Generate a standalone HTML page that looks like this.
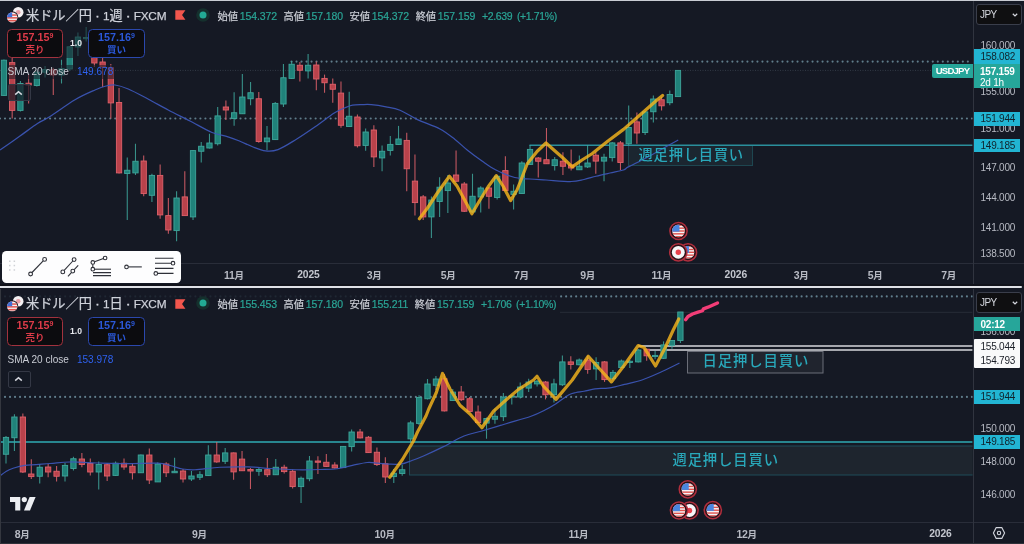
<!DOCTYPE html>
<html lang="ja"><head><meta charset="utf-8"><title>USDJPY</title>
<style>

html,body{margin:0;padding:0}
body{width:1024px;height:544px;overflow:hidden;background:#151924;position:relative;font-family:"Liberation Sans","Noto Sans CJK JP",sans-serif;color:#d1d4dc}
div{box-sizing:border-box}
.abs{position:absolute}
.axis{position:absolute;left:972.6px;width:51px;background:#151924;border-left:1px solid #30343f}
.taxis{position:absolute;left:0;width:1024px;height:23px;background:#151924;border-top:1px solid #292d39}
.al{position:absolute;left:973.7px;width:46.7px;text-align:center;font-size:10px;line-height:14px;color:#b7bac3;letter-spacing:-.22px;padding-left:1.6px}
.tl{position:absolute;width:60px;text-align:center;font-size:10.5px;letter-spacing:-.35px;line-height:16px;color:#b7bac3;font-weight:700}
.tl i{font-style:normal;font-size:9.5px}
.tl.b{font-weight:700;color:#c3c6ce;font-size:10.3px;letter-spacing:-.1px}
.box{position:absolute;left:973.7px;width:46.7px;text-align:center;font-size:10px;line-height:13px;letter-spacing:-.22px;padding-left:1.6px}
.cy{background:#22b5d3;color:#10222b}
.tealb{background:#26a69a;color:#fff}
.wh{background:#f9f9fa;color:#1b1e27}
.jpy{position:absolute;left:975.9px;width:46px;height:21px;letter-spacing:-.65px;border:1px solid #3a3e4b;border-radius:3px;background:#0f0f11;font-size:10px;line-height:19.6px;color:#d5d7de;padding-left:3.2px}
.jpy svg{position:absolute;right:3px;top:8px}
.lg{position:absolute;left:0;height:18px;white-space:nowrap}
.lg .fl{position:absolute;left:3.8px;top:-.6px}
.lg .ttl{position:absolute;left:26px;top:0;font-size:13.2px;line-height:18px;color:#cfd2da;letter-spacing:0;-webkit-text-stroke:.25px #cfd2da}
.lg .ttl em{font-style:normal;font-size:11.8px;letter-spacing:-.2px}
.lg .ttl b{font-weight:400;font-size:11.8px;margin:0 .3px;-webkit-text-stroke:.7px #cfd2da}
.lg .rf{position:absolute;left:175px;top:3.3px}
.lg .gc{position:absolute;left:195.3px;top:.1px}
.lg .oh{position:absolute;left:217.5px;top:0;font-size:10.5px;line-height:18px;color:#2aa596;letter-spacing:-.08px;word-spacing:0;-webkit-text-stroke:.2px}
.lg .oh i{font-style:normal;color:#cdd0d8;font-size:10.3px;margin-right:1.7px}
.lg .oh i.g{margin-left:3.7px}
.lg .oh .ch{margin-left:3.9px;letter-spacing:-.36px;word-spacing:2.2px}
.btn{position:absolute;height:29.1px;border-radius:4.5px;background:#0c0c0f;text-align:center;font-weight:700}
.btn .p{font-size:10.8px;line-height:11px;margin-top:2.5px}
.btn .p sup{font-size:7px;line-height:0;vertical-align:3px}
.btn .t{font-size:9.5px;line-height:11px;margin-top:.9px}
.sell{left:6.6px;width:56.8px;border:1px solid #a2323e;color:#dd3b49}
.buy{left:88px;width:57px;border:1px solid #2b48ad;color:#2b58d8}
.one{position:absolute;left:64px;width:24px;text-align:center;font-size:8.6px;font-weight:700;color:#e6e8ee;line-height:11px}
.sma{position:absolute;left:7.5px;font-size:10.05px;line-height:14px;color:#c9ccd4;white-space:nowrap;background:rgba(21,25,36,.55);padding-right:2px}
.sma b{font-weight:400;color:#2f62f0;margin-left:8px}
.col{position:absolute;left:7.6px;width:23.2px;height:17px;border:1px solid #343845;border-radius:2px;background:rgba(21,25,36,.72)}
.col svg{position:absolute;left:5.4px;top:4.6px}
.note{position:absolute;color:#29a8ba;white-space:nowrap;font-weight:500}

</style></head><body><div id="w" style="position:absolute;left:0;top:0;width:1024px;height:544px;will-change:transform">
<svg width="1024" height="544" viewBox="0 0 1024 544" style="position:absolute;left:0;top:0">
<defs><clipPath id="p1"><rect x="0" y="1" width="972.6" height="262"/></clipPath><clipPath id="p2"><rect x="0" y="289" width="972.6" height="232.5"/></clipPath></defs>
<g clip-path="url(#p1)">
<line x1="291.5" x2="972.6" y1="61.6" y2="61.6" stroke="#607d8b" stroke-width="2.15" stroke-linecap="round" stroke-dasharray="0.01 5" />
<line x1="0" x2="972.6" y1="70.4" y2="70.4" stroke="#333b47" stroke-width="1" stroke-dasharray="1 1.5"/>
<line x1="0" x2="972.6" y1="118.5" y2="118.5" stroke="#607d8b" stroke-width="2.15" stroke-linecap="round" stroke-dasharray="0.01 5" />
<rect x="628.5" y="145.5" width="124" height="20" fill="#1b2630" stroke="#1e4650" stroke-width="1"/>
<line x1="529.5" x2="972.6" y1="145.3" y2="145.3" stroke="#2a8f9c" stroke-width="1.6"/>
<line x1="3.96" x2="3.96" y1="59.4" y2="96" stroke="#3fa69b" stroke-width="1.1" opacity=".85"/>
<rect x="1.31" y="60.2" width="5.3" height="35.2" fill="#20827a" stroke="#3fa69b" stroke-width="0.9"/>
<line x1="12.18" x2="12.18" y1="43" y2="118.5" stroke="#e0626b" stroke-width="1.1" opacity=".85"/>
<rect x="9.53" y="62.6" width="5.3" height="47.8" fill="#b9424b" stroke="#e0626b" stroke-width="0.9"/>
<line x1="20.4" x2="20.4" y1="81" y2="111.5" stroke="#3fa69b" stroke-width="1.1" opacity=".85"/>
<rect x="17.75" y="83.5" width="5.3" height="26.9" fill="#20827a" stroke="#3fa69b" stroke-width="0.9"/>
<line x1="28.62" x2="28.62" y1="74" y2="103.5" stroke="#e0626b" stroke-width="1.1" opacity=".85"/>
<rect x="25.97" y="83.2" width="5.3" height="1.8" fill="#b9424b" stroke="#e0626b" stroke-width="0.9"/>
<line x1="36.84" x2="36.84" y1="70.6" y2="86.5" stroke="#3fa69b" stroke-width="1.1" opacity=".85"/>
<rect x="34.19" y="72.2" width="5.3" height="13.3" fill="#20827a" stroke="#3fa69b" stroke-width="0.9"/>
<line x1="45.06" x2="45.06" y1="66" y2="77.6" stroke="#3fa69b" stroke-width="1.1" opacity=".85"/>
<rect x="42.41" y="69.5" width="5.3" height="2.7" fill="#20827a" stroke="#3fa69b" stroke-width="0.9"/>
<line x1="53.28" x2="53.28" y1="67.7" y2="95" stroke="#e0626b" stroke-width="1.1" opacity=".85"/>
<rect x="50.63" y="69.5" width="5.3" height="5.5" fill="#b9424b" stroke="#e0626b" stroke-width="0.9"/>
<line x1="61.5" x2="61.5" y1="59.75" y2="83.5" stroke="#3fa69b" stroke-width="1.1" opacity=".85"/>
<rect x="58.85" y="68.6" width="5.3" height="6.4" fill="#20827a" stroke="#3fa69b" stroke-width="0.9"/>
<line x1="69.72" x2="69.72" y1="46.5" y2="71" stroke="#3fa69b" stroke-width="1.1" opacity=".85"/>
<rect x="67.07" y="46.8" width="5.3" height="22.2" fill="#20827a" stroke="#3fa69b" stroke-width="0.9"/>
<line x1="77.94" x2="77.94" y1="32.5" y2="56" stroke="#3fa69b" stroke-width="1.1" opacity=".85"/>
<rect x="75.29" y="37" width="5.3" height="10" fill="#20827a" stroke="#3fa69b" stroke-width="0.9"/>
<line x1="86.16" x2="86.16" y1="26.9" y2="41.6" stroke="#3fa69b" stroke-width="1.1" opacity=".85"/>
<rect x="83.51" y="37.5" width="5.3" height="1.2" fill="#20827a" stroke="#3fa69b" stroke-width="0.9"/>
<line x1="94.38" x2="94.38" y1="29" y2="67" stroke="#e0626b" stroke-width="1.1" opacity=".85"/>
<rect x="91.73" y="38.8" width="5.3" height="24.2" fill="#b9424b" stroke="#e0626b" stroke-width="0.9"/>
<line x1="102.6" x2="102.6" y1="55.3" y2="87" stroke="#e0626b" stroke-width="1.1" opacity=".85"/>
<rect x="99.95" y="62" width="5.3" height="5" fill="#b9424b" stroke="#e0626b" stroke-width="0.9"/>
<line x1="110.82" x2="110.82" y1="64" y2="118.5" stroke="#e0626b" stroke-width="1.1" opacity=".85"/>
<rect x="108.17" y="67.7" width="5.3" height="35.2" fill="#b9424b" stroke="#e0626b" stroke-width="0.9"/>
<line x1="119.04" x2="119.04" y1="88" y2="173.5" stroke="#e0626b" stroke-width="1.1" opacity=".85"/>
<rect x="116.39" y="102.5" width="5.3" height="70.4" fill="#b9424b" stroke="#e0626b" stroke-width="0.9"/>
<line x1="127.26" x2="127.26" y1="157.5" y2="220" stroke="#3fa69b" stroke-width="1.1" opacity=".85"/>
<rect x="124.61" y="170.25" width="5.3" height="3.25" fill="#20827a" stroke="#3fa69b" stroke-width="0.9"/>
<line x1="135.48" x2="135.48" y1="143.75" y2="175" stroke="#3fa69b" stroke-width="1.1" opacity=".85"/>
<rect x="132.83" y="161.25" width="5.3" height="11.65" fill="#20827a" stroke="#3fa69b" stroke-width="0.9"/>
<line x1="143.7" x2="143.7" y1="155.6" y2="196.25" stroke="#e0626b" stroke-width="1.1" opacity=".85"/>
<rect x="141.05" y="161" width="5.3" height="32.6" fill="#b9424b" stroke="#e0626b" stroke-width="0.9"/>
<line x1="151.92" x2="151.92" y1="173.75" y2="201.9" stroke="#3fa69b" stroke-width="1.1" opacity=".85"/>
<rect x="149.27" y="175.4" width="5.3" height="19.9" fill="#20827a" stroke="#3fa69b" stroke-width="0.9"/>
<line x1="160.14" x2="160.14" y1="164.4" y2="218.75" stroke="#e0626b" stroke-width="1.1" opacity=".85"/>
<rect x="157.49" y="175.4" width="5.3" height="39.5" fill="#b9424b" stroke="#e0626b" stroke-width="0.9"/>
<line x1="168.36" x2="168.36" y1="198" y2="233.75" stroke="#e0626b" stroke-width="1.1" opacity=".85"/>
<rect x="165.71" y="215.6" width="5.3" height="14.4" fill="#b9424b" stroke="#e0626b" stroke-width="0.9"/>
<line x1="176.58" x2="176.58" y1="191.25" y2="241.25" stroke="#3fa69b" stroke-width="1.1" opacity=".85"/>
<rect x="173.93" y="198" width="5.3" height="32.6" fill="#20827a" stroke="#3fa69b" stroke-width="0.9"/>
<line x1="184.8" x2="184.8" y1="171.25" y2="215.6" stroke="#e0626b" stroke-width="1.1" opacity=".85"/>
<rect x="182.15" y="196.9" width="5.3" height="18.7" fill="#b9424b" stroke="#e0626b" stroke-width="0.9"/>
<line x1="193.02" x2="193.02" y1="150" y2="220" stroke="#3fa69b" stroke-width="1.1" opacity=".85"/>
<rect x="190.37" y="150.6" width="5.3" height="66.3" fill="#20827a" stroke="#3fa69b" stroke-width="0.9"/>
<line x1="201.24" x2="201.24" y1="142" y2="162.5" stroke="#3fa69b" stroke-width="1.1" opacity=".85"/>
<rect x="198.59" y="146.25" width="5.3" height="5" fill="#20827a" stroke="#3fa69b" stroke-width="0.9"/>
<line x1="209.46" x2="209.46" y1="133.75" y2="148.5" stroke="#3fa69b" stroke-width="1.1" opacity=".85"/>
<rect x="206.81" y="143" width="5.3" height="5" fill="#20827a" stroke="#3fa69b" stroke-width="0.9"/>
<line x1="217.68" x2="217.68" y1="107" y2="145.6" stroke="#3fa69b" stroke-width="1.1" opacity=".85"/>
<rect x="215.03" y="115.9" width="5.3" height="27.85" fill="#20827a" stroke="#3fa69b" stroke-width="0.9"/>
<line x1="225.9" x2="225.9" y1="100.6" y2="120" stroke="#e0626b" stroke-width="1.1" opacity=".85"/>
<rect x="223.25" y="107" width="5.3" height="3" fill="#b9424b" stroke="#e0626b" stroke-width="0.9"/>
<line x1="234.12" x2="234.12" y1="92.25" y2="125.75" stroke="#3fa69b" stroke-width="1.1" opacity=".85"/>
<rect x="231.47" y="112.75" width="5.3" height="5.75" fill="#20827a" stroke="#3fa69b" stroke-width="0.9"/>
<line x1="242.34" x2="242.34" y1="74" y2="114" stroke="#3fa69b" stroke-width="1.1" opacity=".85"/>
<rect x="239.69" y="97" width="5.3" height="16.75" fill="#20827a" stroke="#3fa69b" stroke-width="0.9"/>
<line x1="250.56" x2="250.56" y1="82" y2="105.25" stroke="#3fa69b" stroke-width="1.1" opacity=".85"/>
<rect x="247.91" y="92.75" width="5.3" height="6" fill="#20827a" stroke="#3fa69b" stroke-width="0.9"/>
<line x1="258.78" x2="258.78" y1="92" y2="142.75" stroke="#e0626b" stroke-width="1.1" opacity=".85"/>
<rect x="256.13" y="98.75" width="5.3" height="42.75" fill="#b9424b" stroke="#e0626b" stroke-width="0.9"/>
<line x1="267" x2="267" y1="125.9" y2="150.25" stroke="#3fa69b" stroke-width="1.1" opacity=".85"/>
<rect x="264.35" y="138" width="5.3" height="3.75" fill="#20827a" stroke="#3fa69b" stroke-width="0.9"/>
<line x1="275.22" x2="275.22" y1="102" y2="140" stroke="#3fa69b" stroke-width="1.1" opacity=".85"/>
<rect x="272.57" y="103.4" width="5.3" height="36.2" fill="#20827a" stroke="#3fa69b" stroke-width="0.9"/>
<line x1="283.44" x2="283.44" y1="64" y2="107" stroke="#3fa69b" stroke-width="1.1" opacity=".85"/>
<rect x="280.79" y="77.75" width="5.3" height="26.25" fill="#20827a" stroke="#3fa69b" stroke-width="0.9"/>
<line x1="291.66" x2="291.66" y1="61" y2="79" stroke="#3fa69b" stroke-width="1.1" opacity=".85"/>
<rect x="289.01" y="64.25" width="5.3" height="14.15" fill="#20827a" stroke="#3fa69b" stroke-width="0.9"/>
<line x1="299.88" x2="299.88" y1="62" y2="81.5" stroke="#e0626b" stroke-width="1.1" opacity=".85"/>
<rect x="297.23" y="65.25" width="5.3" height="5" fill="#b9424b" stroke="#e0626b" stroke-width="0.9"/>
<line x1="308.1" x2="308.1" y1="54" y2="78.4" stroke="#3fa69b" stroke-width="1.1" opacity=".85"/>
<rect x="305.45" y="65.25" width="5.3" height="5.65" fill="#20827a" stroke="#3fa69b" stroke-width="0.9"/>
<line x1="316.32" x2="316.32" y1="61.5" y2="90.25" stroke="#e0626b" stroke-width="1.1" opacity=".85"/>
<rect x="313.67" y="65" width="5.3" height="14" fill="#b9424b" stroke="#e0626b" stroke-width="0.9"/>
<line x1="324.54" x2="324.54" y1="74.6" y2="92.75" stroke="#e0626b" stroke-width="1.1" opacity=".85"/>
<rect x="321.89" y="78.4" width="5.3" height="4.35" fill="#b9424b" stroke="#e0626b" stroke-width="0.9"/>
<line x1="332.76" x2="332.76" y1="78.4" y2="102.75" stroke="#e0626b" stroke-width="1.1" opacity=".85"/>
<rect x="330.11" y="84.25" width="5.3" height="5" fill="#b9424b" stroke="#e0626b" stroke-width="0.9"/>
<line x1="340.98" x2="340.98" y1="81.5" y2="127.75" stroke="#e0626b" stroke-width="1.1" opacity=".85"/>
<rect x="338.33" y="93.1" width="5.3" height="32.15" fill="#b9424b" stroke="#e0626b" stroke-width="0.9"/>
<line x1="349.2" x2="349.2" y1="91.75" y2="127" stroke="#3fa69b" stroke-width="1.1" opacity=".85"/>
<rect x="346.55" y="116.25" width="5.3" height="10.25" fill="#20827a" stroke="#3fa69b" stroke-width="0.9"/>
<line x1="357.42" x2="357.42" y1="114.6" y2="147.6" stroke="#e0626b" stroke-width="1.1" opacity=".85"/>
<rect x="354.77" y="117" width="5.3" height="28.75" fill="#b9424b" stroke="#e0626b" stroke-width="0.9"/>
<line x1="365.64" x2="365.64" y1="128.4" y2="150.75" stroke="#3fa69b" stroke-width="1.1" opacity=".85"/>
<rect x="362.99" y="132" width="5.3" height="13.4" fill="#20827a" stroke="#3fa69b" stroke-width="0.9"/>
<line x1="373.86" x2="373.86" y1="125.25" y2="166.9" stroke="#e0626b" stroke-width="1.1" opacity=".85"/>
<rect x="371.21" y="130" width="5.3" height="26.9" fill="#b9424b" stroke="#e0626b" stroke-width="0.9"/>
<line x1="382.08" x2="382.08" y1="145.5" y2="171.25" stroke="#3fa69b" stroke-width="1.1" opacity=".85"/>
<rect x="379.43" y="151.25" width="5.3" height="6.65" fill="#20827a" stroke="#3fa69b" stroke-width="0.9"/>
<line x1="390.3" x2="390.3" y1="135.9" y2="155.6" stroke="#3fa69b" stroke-width="1.1" opacity=".85"/>
<rect x="387.65" y="144.4" width="5.3" height="6" fill="#20827a" stroke="#3fa69b" stroke-width="0.9"/>
<line x1="398.52" x2="398.52" y1="125.9" y2="145" stroke="#3fa69b" stroke-width="1.1" opacity=".85"/>
<rect x="395.87" y="139" width="5.3" height="5.5" fill="#20827a" stroke="#3fa69b" stroke-width="0.9"/>
<line x1="406.74" x2="406.74" y1="132.75" y2="191.25" stroke="#e0626b" stroke-width="1.1" opacity=".85"/>
<rect x="404.09" y="140.4" width="5.3" height="28.35" fill="#b9424b" stroke="#e0626b" stroke-width="0.9"/>
<line x1="414.96" x2="414.96" y1="154.4" y2="215.6" stroke="#e0626b" stroke-width="1.1" opacity=".85"/>
<rect x="412.31" y="181.1" width="5.3" height="21.5" fill="#b9424b" stroke="#e0626b" stroke-width="0.9"/>
<line x1="423.18" x2="423.18" y1="195" y2="220" stroke="#e0626b" stroke-width="1.1" opacity=".85"/>
<rect x="420.53" y="196.9" width="5.3" height="20" fill="#b9424b" stroke="#e0626b" stroke-width="0.9"/>
<line x1="431.4" x2="431.4" y1="196.5" y2="238" stroke="#3fa69b" stroke-width="1.1" opacity=".85"/>
<rect x="428.75" y="200" width="5.3" height="16.9" fill="#20827a" stroke="#3fa69b" stroke-width="0.9"/>
<line x1="439.62" x2="439.62" y1="177.2" y2="216.9" stroke="#3fa69b" stroke-width="1.1" opacity=".85"/>
<rect x="436.97" y="187.2" width="5.3" height="14.3" fill="#20827a" stroke="#3fa69b" stroke-width="0.9"/>
<line x1="447.84" x2="447.84" y1="175" y2="213" stroke="#3fa69b" stroke-width="1.1" opacity=".85"/>
<rect x="445.19" y="183" width="5.3" height="7.6" fill="#20827a" stroke="#3fa69b" stroke-width="0.9"/>
<line x1="456.06" x2="456.06" y1="150.6" y2="182" stroke="#e0626b" stroke-width="1.1" opacity=".85"/>
<rect x="453.41" y="175" width="5.3" height="6.25" fill="#b9424b" stroke="#e0626b" stroke-width="0.9"/>
<line x1="464.28" x2="464.28" y1="181.9" y2="212" stroke="#e0626b" stroke-width="1.1" opacity=".85"/>
<rect x="461.63" y="184" width="5.3" height="27.25" fill="#b9424b" stroke="#e0626b" stroke-width="0.9"/>
<line x1="472.5" x2="472.5" y1="173.75" y2="213" stroke="#3fa69b" stroke-width="1.1" opacity=".85"/>
<rect x="469.85" y="196.25" width="5.3" height="15.65" fill="#20827a" stroke="#3fa69b" stroke-width="0.9"/>
<line x1="480.72" x2="480.72" y1="186.25" y2="212.5" stroke="#3fa69b" stroke-width="1.1" opacity=".85"/>
<rect x="478.07" y="188" width="5.3" height="9" fill="#20827a" stroke="#3fa69b" stroke-width="0.9"/>
<line x1="488.94" x2="488.94" y1="187" y2="208.75" stroke="#e0626b" stroke-width="1.1" opacity=".85"/>
<rect x="486.29" y="188" width="5.3" height="8.25" fill="#b9424b" stroke="#e0626b" stroke-width="0.9"/>
<line x1="497.16" x2="497.16" y1="175.6" y2="199.4" stroke="#3fa69b" stroke-width="1.1" opacity=".85"/>
<rect x="494.51" y="176.25" width="5.3" height="21.25" fill="#20827a" stroke="#3fa69b" stroke-width="0.9"/>
<line x1="505.38" x2="505.38" y1="156.25" y2="191" stroke="#e0626b" stroke-width="1.1" opacity=".85"/>
<rect x="502.73" y="170.6" width="5.3" height="20" fill="#b9424b" stroke="#e0626b" stroke-width="0.9"/>
<line x1="513.6" x2="513.6" y1="184.4" y2="209.4" stroke="#3fa69b" stroke-width="1.1" opacity=".85"/>
<rect x="510.95" y="191.25" width="5.3" height="3.15" fill="#20827a" stroke="#3fa69b" stroke-width="0.9"/>
<line x1="521.82" x2="521.82" y1="161.25" y2="194" stroke="#3fa69b" stroke-width="1.1" opacity=".85"/>
<rect x="519.17" y="163" width="5.3" height="30.5" fill="#20827a" stroke="#3fa69b" stroke-width="0.9"/>
<line x1="530.04" x2="530.04" y1="145" y2="165" stroke="#3fa69b" stroke-width="1.1" opacity=".85"/>
<rect x="527.39" y="149.4" width="5.3" height="15" fill="#20827a" stroke="#3fa69b" stroke-width="0.9"/>
<line x1="538.26" x2="538.26" y1="157" y2="177.5" stroke="#e0626b" stroke-width="1.1" opacity=".85"/>
<rect x="535.61" y="158" width="5.3" height="3.25" fill="#b9424b" stroke="#e0626b" stroke-width="0.9"/>
<line x1="546.48" x2="546.48" y1="128" y2="164" stroke="#e0626b" stroke-width="1.1" opacity=".85"/>
<rect x="543.83" y="159.75" width="5.3" height="4" fill="#b9424b" stroke="#e0626b" stroke-width="0.9"/>
<line x1="554.7" x2="554.7" y1="156.9" y2="170.6" stroke="#3fa69b" stroke-width="1.1" opacity=".85"/>
<rect x="552.05" y="159.75" width="5.3" height="5.85" fill="#20827a" stroke="#3fa69b" stroke-width="0.9"/>
<line x1="562.92" x2="562.92" y1="152.25" y2="175" stroke="#e0626b" stroke-width="1.1" opacity=".85"/>
<rect x="560.27" y="161.25" width="5.3" height="5" fill="#b9424b" stroke="#e0626b" stroke-width="0.9"/>
<line x1="571.14" x2="571.14" y1="149.4" y2="170.6" stroke="#e0626b" stroke-width="1.1" opacity=".85"/>
<rect x="568.49" y="165" width="5.3" height="3" fill="#b9424b" stroke="#e0626b" stroke-width="0.9"/>
<line x1="579.36" x2="579.36" y1="155.6" y2="170" stroke="#3fa69b" stroke-width="1.1" opacity=".85"/>
<rect x="576.71" y="166.25" width="5.3" height="3.5" fill="#20827a" stroke="#3fa69b" stroke-width="0.9"/>
<line x1="587.58" x2="587.58" y1="145" y2="168" stroke="#3fa69b" stroke-width="1.1" opacity=".85"/>
<rect x="584.93" y="163" width="5.3" height="3.9" fill="#20827a" stroke="#3fa69b" stroke-width="0.9"/>
<line x1="595.8" x2="595.8" y1="151.9" y2="173.75" stroke="#e0626b" stroke-width="1.1" opacity=".85"/>
<rect x="593.15" y="155.2" width="5.3" height="5.9" fill="#b9424b" stroke="#e0626b" stroke-width="0.9"/>
<line x1="604.02" x2="604.02" y1="153.75" y2="181.25" stroke="#3fa69b" stroke-width="1.1" opacity=".85"/>
<rect x="601.37" y="157.25" width="5.3" height="3.85" fill="#20827a" stroke="#3fa69b" stroke-width="0.9"/>
<line x1="612.24" x2="612.24" y1="141.9" y2="161.5" stroke="#3fa69b" stroke-width="1.1" opacity=".85"/>
<rect x="609.59" y="142.9" width="5.3" height="14.7" fill="#20827a" stroke="#3fa69b" stroke-width="0.9"/>
<line x1="620.46" x2="620.46" y1="141" y2="170" stroke="#e0626b" stroke-width="1.1" opacity=".85"/>
<rect x="617.81" y="142.9" width="5.3" height="19.6" fill="#b9424b" stroke="#e0626b" stroke-width="0.9"/>
<line x1="628.68" x2="628.68" y1="105.6" y2="145.6" stroke="#3fa69b" stroke-width="1.1" opacity=".85"/>
<rect x="626.03" y="127.5" width="5.3" height="16.25" fill="#20827a" stroke="#3fa69b" stroke-width="0.9"/>
<line x1="636.9" x2="636.9" y1="112.5" y2="143.75" stroke="#e0626b" stroke-width="1.1" opacity=".85"/>
<rect x="634.25" y="121.9" width="5.3" height="11.1" fill="#b9424b" stroke="#e0626b" stroke-width="0.9"/>
<line x1="645.12" x2="645.12" y1="111" y2="135" stroke="#3fa69b" stroke-width="1.1" opacity=".85"/>
<rect x="642.47" y="111.9" width="5.3" height="20.6" fill="#20827a" stroke="#3fa69b" stroke-width="0.9"/>
<line x1="653.34" x2="653.34" y1="95.4" y2="122.4" stroke="#3fa69b" stroke-width="1.1" opacity=".85"/>
<rect x="650.69" y="99" width="5.3" height="12.75" fill="#20827a" stroke="#3fa69b" stroke-width="0.9"/>
<line x1="661.56" x2="661.56" y1="97" y2="110.5" stroke="#e0626b" stroke-width="1.1" opacity=".85"/>
<rect x="658.91" y="99.75" width="5.3" height="6.05" fill="#b9424b" stroke="#e0626b" stroke-width="0.9"/>
<line x1="669.78" x2="669.78" y1="90.4" y2="105.2" stroke="#3fa69b" stroke-width="1.1" opacity=".85"/>
<rect x="667.13" y="94.5" width="5.3" height="8.2" fill="#20827a" stroke="#3fa69b" stroke-width="0.9"/>
<line x1="678" x2="678" y1="70.4" y2="96.6" stroke="#3fa69b" stroke-width="1.1" opacity=".85"/>
<rect x="675.35" y="70.4" width="5.3" height="26.2" fill="#20827a" stroke="#3fa69b" stroke-width="0.9"/>
<path d="M0 150C3.33 147.67 13.75 140.42 20 136C26.25 131.58 32.5 126.75 37.5 123.5C42.5 120.25 43.75 120.46 50 116.5C56.25 112.54 67.5 104.17 75 99.75C82.5 95.33 89.83 92.29 95 90C100.17 87.71 102.67 86.83 106 86C109.33 85.17 111.29 84.5 115 85C118.71 85.5 122.75 86.67 128.25 89C133.75 91.33 141.33 95.5 148 99C154.67 102.5 161.25 106.33 168.25 110C175.25 113.67 182.71 117.25 190 121C197.29 124.75 205.67 129.87 212 132.5C218.33 135.13 223.33 135.34 228 136.8C232.67 138.26 236 139.63 240 141.25C244 142.87 247.75 144.89 252 146.5C256.25 148.11 261.17 150.38 265.5 150.9C269.83 151.42 272.92 151.5 278 149.6C283.08 147.7 289.75 143.35 296 139.5C302.25 135.65 309.12 130.92 315.5 126.5C321.88 122.08 329.33 116.12 334.25 113C339.17 109.88 341.96 109.05 345 107.75C348.04 106.45 349.67 105.73 352.5 105.2C355.33 104.67 358.88 104.7 362 104.6C365.12 104.5 367.25 104.23 371.25 104.6C375.25 104.97 381.21 105.86 386 106.8C390.79 107.74 394.75 108.12 400 110.25C405.25 112.38 410.83 116.47 417.5 119.6C424.17 122.72 433.75 125.68 440 129C446.25 132.32 450.42 135.96 455 139.5C459.58 143.04 463 146.67 467.5 150.25C472 153.83 477.25 157.71 482 161C486.75 164.29 490.54 167.25 496 170C501.46 172.75 509.08 176 514.75 177.5C520.42 179 524.79 178.58 530 179C535.21 179.42 539.17 179.58 546 180C552.83 180.42 564.67 181.58 571 181.5C577.33 181.42 579.83 180.38 584 179.5C588.17 178.62 591.67 177.33 596 176.25C600.33 175.17 605.42 174.04 610 173C614.58 171.96 620.46 171.02 623.5 170C626.54 168.98 624.67 168.82 628.25 166.9C631.83 164.98 639.38 161.48 645 158.5C650.62 155.52 656.46 152.08 662 149C667.54 145.92 675.54 141.5 678.25 140" fill="none" stroke="#3d57b8" stroke-opacity=".92" stroke-width="1.25"/>
<path d="M419.4 218.75L427.5 208L438 192L449.4 176.25L457 186L466 202.5L471.9 213.75L480 200L488 187L496.25 175.6L503 186L510.6 200.6L517 190L521 180L527.25 163.75L537.25 151.25L546 143L555 151L563 158L572.25 166.9L582 160L592 153.75L608 141L623.5 129.4L640 115L657 100L662.6 95.4" fill="none" stroke="#f5b51c" stroke-opacity=".82" stroke-width="3.2" stroke-linejoin="round" stroke-linecap="round"/>
<circle cx="678.5" cy="231" r="8.6" fill="#2a1218" stroke="#b02e3d" stroke-width="1.5"/><g><clipPath id="cu1"><circle cx="678.5" cy="231" r="6.4"/></clipPath><g clip-path="url(#cu1)"><rect x="672.1" y="224.6" width="12.8" height="12.8" fill="#f4f4f6"/><rect x="672.1" y="227.44" width="12.8" height="1.42" fill="#e0544f"/><rect x="672.1" y="230.29" width="12.8" height="1.42" fill="#e0544f"/><rect x="672.1" y="233.13" width="12.8" height="1.42" fill="#e0544f"/><rect x="672.1" y="235.98" width="12.8" height="1.42" fill="#e0544f"/><rect x="672.1" y="223.18" width="12.8" height="2.7" fill="#e0544f"/><rect x="672.1" y="224.6" width="7.36" height="7.04" fill="#4a86e0"/></g></g>
<circle cx="688" cy="252.3" r="8.6" fill="#2a1218" stroke="#b02e3d" stroke-width="1.5"/><g><clipPath id="cu2"><circle cx="688" cy="252.3" r="6.4"/></clipPath><g clip-path="url(#cu2)"><rect x="681.6" y="245.9" width="12.8" height="12.8" fill="#f4f4f6"/><rect x="681.6" y="248.74" width="12.8" height="1.42" fill="#e0544f"/><rect x="681.6" y="251.59" width="12.8" height="1.42" fill="#e0544f"/><rect x="681.6" y="254.43" width="12.8" height="1.42" fill="#e0544f"/><rect x="681.6" y="257.28" width="12.8" height="1.42" fill="#e0544f"/><rect x="681.6" y="244.48" width="12.8" height="2.7" fill="#e0544f"/><rect x="681.6" y="245.9" width="7.36" height="7.04" fill="#4a86e0"/></g></g>
<circle cx="678.3" cy="252.3" r="8.6" fill="#2a1218" stroke="#b02e3d" stroke-width="1.5"/><circle cx="678.3" cy="252.3" r="6.4" fill="#f6f6f8"/><circle cx="678.3" cy="252.3" r="2.7" fill="#e8414c"/>
</g>
<g clip-path="url(#p2)">
<line x1="0" x2="972.6" y1="296.4" y2="296.4" stroke="#607d8b" stroke-width="2.15" stroke-linecap="round" stroke-dasharray="0.01 5" />
<line x1="560" x2="972.6" y1="312.3" y2="312.3" stroke="#272c38" stroke-width="1"/>
<line x1="0" x2="972.6" y1="396.9" y2="396.9" stroke="#607d8b" stroke-width="2.15" stroke-linecap="round" stroke-dasharray="0.01 5" />
<rect x="409.5" y="446" width="568.1" height="29" fill="#1e252e" stroke="#1f4d58" stroke-width="1"/>
<line x1="0" x2="972.6" y1="442" y2="442" stroke="#28868f" stroke-width="2"/>
<line x1="638.5" x2="972.6" y1="346" y2="346" stroke="#a6a8ae" stroke-width="1.8"/>
<line x1="646.5" x2="972.6" y1="350" y2="350" stroke="#a6a8ae" stroke-width="1.8"/>
<rect x="687.5" y="351.5" width="135.5" height="21.5" fill="#20242e" stroke="#6b6e78" stroke-width="1"/>
<line x1="6" x2="6" y1="436" y2="463.6" stroke="#3fa69b" stroke-width="1.1" opacity=".85"/>
<rect x="3.35" y="437.4" width="5.3" height="16.85" fill="#20827a" stroke="#3fa69b" stroke-width="0.9"/>
<line x1="14.43" x2="14.43" y1="414.25" y2="451" stroke="#3fa69b" stroke-width="1.1" opacity=".85"/>
<rect x="11.78" y="417" width="5.3" height="20.75" fill="#20827a" stroke="#3fa69b" stroke-width="0.9"/>
<line x1="22.86" x2="22.86" y1="413.6" y2="473" stroke="#e0626b" stroke-width="1.1" opacity=".85"/>
<rect x="20.21" y="417" width="5.3" height="55" fill="#b9424b" stroke="#e0626b" stroke-width="0.9"/>
<line x1="31.29" x2="31.29" y1="459.25" y2="479" stroke="#e0626b" stroke-width="1.1" opacity=".85"/>
<rect x="28.64" y="474" width="5.3" height="2.6" fill="#b9424b" stroke="#e0626b" stroke-width="0.9"/>
<line x1="39.72" x2="39.72" y1="464" y2="483.5" stroke="#3fa69b" stroke-width="1.1" opacity=".85"/>
<rect x="37.07" y="467.25" width="5.3" height="9" fill="#20827a" stroke="#3fa69b" stroke-width="0.9"/>
<line x1="48.15" x2="48.15" y1="464" y2="477.25" stroke="#e0626b" stroke-width="1.1" opacity=".85"/>
<rect x="45.5" y="467" width="5.3" height="5" fill="#b9424b" stroke="#e0626b" stroke-width="0.9"/>
<line x1="56.58" x2="56.58" y1="466" y2="481.6" stroke="#e0626b" stroke-width="1.1" opacity=".85"/>
<rect x="53.93" y="471.25" width="5.3" height="5" fill="#b9424b" stroke="#e0626b" stroke-width="0.9"/>
<line x1="65.01" x2="65.01" y1="463" y2="481.6" stroke="#3fa69b" stroke-width="1.1" opacity=".85"/>
<rect x="62.36" y="465.4" width="5.3" height="10.6" fill="#20827a" stroke="#3fa69b" stroke-width="0.9"/>
<line x1="73.44" x2="73.44" y1="456.75" y2="470.4" stroke="#3fa69b" stroke-width="1.1" opacity=".85"/>
<rect x="70.79" y="458.75" width="5.3" height="9.75" fill="#20827a" stroke="#3fa69b" stroke-width="0.9"/>
<line x1="81.87" x2="81.87" y1="453" y2="467.25" stroke="#e0626b" stroke-width="1.1" opacity=".85"/>
<rect x="79.22" y="459" width="5.3" height="5.5" fill="#b9424b" stroke="#e0626b" stroke-width="0.9"/>
<line x1="90.3" x2="90.3" y1="458.5" y2="475.4" stroke="#e0626b" stroke-width="1.1" opacity=".85"/>
<rect x="87.65" y="463.5" width="5.3" height="8.5" fill="#b9424b" stroke="#e0626b" stroke-width="0.9"/>
<line x1="98.73" x2="98.73" y1="461.6" y2="489.5" stroke="#3fa69b" stroke-width="1.1" opacity=".85"/>
<rect x="96.08" y="464.5" width="5.3" height="7.5" fill="#20827a" stroke="#3fa69b" stroke-width="0.9"/>
<line x1="107.16" x2="107.16" y1="463" y2="481" stroke="#e0626b" stroke-width="1.1" opacity=".85"/>
<rect x="104.51" y="464.75" width="5.3" height="11.25" fill="#b9424b" stroke="#e0626b" stroke-width="0.9"/>
<line x1="115.59" x2="115.59" y1="461.6" y2="476" stroke="#3fa69b" stroke-width="1.1" opacity=".85"/>
<rect x="112.94" y="463.25" width="5.3" height="12.15" fill="#20827a" stroke="#3fa69b" stroke-width="0.9"/>
<line x1="124.02" x2="124.02" y1="458.5" y2="469.75" stroke="#e0626b" stroke-width="1.1" opacity=".85"/>
<rect x="121.37" y="463.25" width="5.3" height="3.75" fill="#b9424b" stroke="#e0626b" stroke-width="0.9"/>
<line x1="132.45" x2="132.45" y1="463.75" y2="479.4" stroke="#e0626b" stroke-width="1.1" opacity=".85"/>
<rect x="129.8" y="466.25" width="5.3" height="6.5" fill="#b9424b" stroke="#e0626b" stroke-width="0.9"/>
<line x1="140.88" x2="140.88" y1="454.5" y2="473" stroke="#3fa69b" stroke-width="1.1" opacity=".85"/>
<rect x="138.23" y="455" width="5.3" height="17.75" fill="#20827a" stroke="#3fa69b" stroke-width="0.9"/>
<line x1="149.31" x2="149.31" y1="448.5" y2="484" stroke="#e0626b" stroke-width="1.1" opacity=".85"/>
<rect x="146.66" y="455" width="5.3" height="25" fill="#b9424b" stroke="#e0626b" stroke-width="0.9"/>
<line x1="157.74" x2="157.74" y1="462.5" y2="482" stroke="#3fa69b" stroke-width="1.1" opacity=".85"/>
<rect x="155.09" y="464" width="5.3" height="17.9" fill="#20827a" stroke="#3fa69b" stroke-width="0.9"/>
<line x1="166.17" x2="166.17" y1="462.25" y2="476.9" stroke="#e0626b" stroke-width="1.1" opacity=".85"/>
<rect x="163.52" y="464" width="5.3" height="8.75" fill="#b9424b" stroke="#e0626b" stroke-width="0.9"/>
<line x1="174.6" x2="174.6" y1="457.75" y2="473" stroke="#3fa69b" stroke-width="1.1" opacity=".85"/>
<rect x="171.95" y="471.25" width="5.3" height="1.5" fill="#20827a" stroke="#3fa69b" stroke-width="0.9"/>
<line x1="183.03" x2="183.03" y1="469" y2="482.5" stroke="#e0626b" stroke-width="1.1" opacity=".85"/>
<rect x="180.38" y="471" width="5.3" height="8" fill="#b9424b" stroke="#e0626b" stroke-width="0.9"/>
<line x1="191.46" x2="191.46" y1="471" y2="481" stroke="#3fa69b" stroke-width="1.1" opacity=".85"/>
<rect x="188.81" y="476" width="5.3" height="3" fill="#20827a" stroke="#3fa69b" stroke-width="0.9"/>
<line x1="199.89" x2="199.89" y1="471.25" y2="480" stroke="#3fa69b" stroke-width="1.1" opacity=".85"/>
<rect x="197.24" y="474.75" width="5.3" height="2.5" fill="#20827a" stroke="#3fa69b" stroke-width="0.9"/>
<line x1="208.32" x2="208.32" y1="445.25" y2="476" stroke="#3fa69b" stroke-width="1.1" opacity=".85"/>
<rect x="205.67" y="455" width="5.3" height="20.6" fill="#20827a" stroke="#3fa69b" stroke-width="0.9"/>
<line x1="216.75" x2="216.75" y1="441.9" y2="462.75" stroke="#e0626b" stroke-width="1.1" opacity=".85"/>
<rect x="214.1" y="455" width="5.3" height="6.9" fill="#b9424b" stroke="#e0626b" stroke-width="0.9"/>
<line x1="225.18" x2="225.18" y1="448.1" y2="464" stroke="#3fa69b" stroke-width="1.1" opacity=".85"/>
<rect x="222.53" y="452.9" width="5.3" height="8.35" fill="#20827a" stroke="#3fa69b" stroke-width="0.9"/>
<line x1="233.61" x2="233.61" y1="452.5" y2="479.75" stroke="#e0626b" stroke-width="1.1" opacity=".85"/>
<rect x="230.96" y="452.9" width="5.3" height="19" fill="#b9424b" stroke="#e0626b" stroke-width="0.9"/>
<line x1="242.04" x2="242.04" y1="451" y2="471" stroke="#e0626b" stroke-width="1.1" opacity=".85"/>
<rect x="239.39" y="459.1" width="5.3" height="11.65" fill="#b9424b" stroke="#e0626b" stroke-width="0.9"/>
<line x1="250.47" x2="250.47" y1="468" y2="489" stroke="#e0626b" stroke-width="1.1" opacity=".85"/>
<rect x="247.82" y="469.5" width="5.3" height="1.5" fill="#b9424b" stroke="#e0626b" stroke-width="0.9"/>
<line x1="258.9" x2="258.9" y1="467.25" y2="475.75" stroke="#3fa69b" stroke-width="1.1" opacity=".85"/>
<rect x="256.25" y="469.5" width="5.3" height="1.75" fill="#20827a" stroke="#3fa69b" stroke-width="0.9"/>
<line x1="267.33" x2="267.33" y1="457.9" y2="477" stroke="#e0626b" stroke-width="1.1" opacity=".85"/>
<rect x="264.68" y="469.75" width="5.3" height="5" fill="#b9424b" stroke="#e0626b" stroke-width="0.9"/>
<line x1="275.76" x2="275.76" y1="459.1" y2="475" stroke="#3fa69b" stroke-width="1.1" opacity=".85"/>
<rect x="273.11" y="467.25" width="5.3" height="7.5" fill="#20827a" stroke="#3fa69b" stroke-width="0.9"/>
<line x1="284.19" x2="284.19" y1="464.75" y2="473.5" stroke="#e0626b" stroke-width="1.1" opacity=".85"/>
<rect x="281.54" y="467.25" width="5.3" height="4.35" fill="#b9424b" stroke="#e0626b" stroke-width="0.9"/>
<line x1="292.62" x2="292.62" y1="469.5" y2="488.5" stroke="#e0626b" stroke-width="1.1" opacity=".85"/>
<rect x="289.97" y="471.25" width="5.3" height="15.35" fill="#b9424b" stroke="#e0626b" stroke-width="0.9"/>
<line x1="301.05" x2="301.05" y1="476.6" y2="502.9" stroke="#3fa69b" stroke-width="1.1" opacity=".85"/>
<rect x="298.4" y="478.25" width="5.3" height="8.35" fill="#20827a" stroke="#3fa69b" stroke-width="0.9"/>
<line x1="309.48" x2="309.48" y1="456" y2="481.25" stroke="#3fa69b" stroke-width="1.1" opacity=".85"/>
<rect x="306.83" y="461" width="5.3" height="17.75" fill="#20827a" stroke="#3fa69b" stroke-width="0.9"/>
<line x1="317.91" x2="317.91" y1="456.25" y2="474" stroke="#e0626b" stroke-width="1.1" opacity=".85"/>
<rect x="315.26" y="461" width="5.3" height="1.25" fill="#b9424b" stroke="#e0626b" stroke-width="0.9"/>
<line x1="326.34" x2="326.34" y1="454" y2="467" stroke="#e0626b" stroke-width="1.1" opacity=".85"/>
<rect x="323.69" y="462.25" width="5.3" height="4.15" fill="#b9424b" stroke="#e0626b" stroke-width="0.9"/>
<line x1="334.77" x2="334.77" y1="462.25" y2="468.5" stroke="#e0626b" stroke-width="1.1" opacity=".85"/>
<rect x="332.12" y="465" width="5.3" height="2.9" fill="#b9424b" stroke="#e0626b" stroke-width="0.9"/>
<line x1="343.2" x2="343.2" y1="446" y2="468" stroke="#3fa69b" stroke-width="1.1" opacity=".85"/>
<rect x="340.55" y="446.4" width="5.3" height="21.2" fill="#20827a" stroke="#3fa69b" stroke-width="0.9"/>
<line x1="351.63" x2="351.63" y1="429.5" y2="451.6" stroke="#3fa69b" stroke-width="1.1" opacity=".85"/>
<rect x="348.98" y="432" width="5.3" height="14.6" fill="#20827a" stroke="#3fa69b" stroke-width="0.9"/>
<line x1="360.06" x2="360.06" y1="429.1" y2="438.5" stroke="#e0626b" stroke-width="1.1" opacity=".85"/>
<rect x="357.41" y="432" width="5.3" height="5.9" fill="#b9424b" stroke="#e0626b" stroke-width="0.9"/>
<line x1="368.49" x2="368.49" y1="436" y2="453" stroke="#e0626b" stroke-width="1.1" opacity=".85"/>
<rect x="365.84" y="437.25" width="5.3" height="15.35" fill="#b9424b" stroke="#e0626b" stroke-width="0.9"/>
<line x1="376.92" x2="376.92" y1="447.5" y2="466" stroke="#e0626b" stroke-width="1.1" opacity=".85"/>
<rect x="374.27" y="452.25" width="5.3" height="12.25" fill="#b9424b" stroke="#e0626b" stroke-width="0.9"/>
<line x1="385.35" x2="385.35" y1="457.25" y2="483" stroke="#e0626b" stroke-width="1.1" opacity=".85"/>
<rect x="382.7" y="463.75" width="5.3" height="13.25" fill="#b9424b" stroke="#e0626b" stroke-width="0.9"/>
<line x1="393.78" x2="393.78" y1="469" y2="483" stroke="#3fa69b" stroke-width="1.1" opacity=".85"/>
<rect x="391.13" y="473.25" width="5.3" height="3.35" fill="#20827a" stroke="#3fa69b" stroke-width="0.9"/>
<line x1="402.21" x2="402.21" y1="464.75" y2="475.75" stroke="#3fa69b" stroke-width="1.1" opacity=".85"/>
<rect x="399.56" y="469.75" width="5.3" height="3.75" fill="#20827a" stroke="#3fa69b" stroke-width="0.9"/>
<line x1="410.64" x2="410.64" y1="420.75" y2="442.9" stroke="#3fa69b" stroke-width="1.1" opacity=".85"/>
<rect x="407.99" y="422.9" width="5.3" height="16" fill="#20827a" stroke="#3fa69b" stroke-width="0.9"/>
<line x1="419.07" x2="419.07" y1="395.25" y2="425.25" stroke="#3fa69b" stroke-width="1.1" opacity=".85"/>
<rect x="416.42" y="397.5" width="5.3" height="25.9" fill="#20827a" stroke="#3fa69b" stroke-width="0.9"/>
<line x1="427.5" x2="427.5" y1="379" y2="399.5" stroke="#3fa69b" stroke-width="1.1" opacity=".85"/>
<rect x="424.85" y="384" width="5.3" height="14.75" fill="#20827a" stroke="#3fa69b" stroke-width="0.9"/>
<line x1="435.93" x2="435.93" y1="375.9" y2="390" stroke="#3fa69b" stroke-width="1.1" opacity=".85"/>
<rect x="433.28" y="379" width="5.3" height="6.25" fill="#20827a" stroke="#3fa69b" stroke-width="0.9"/>
<line x1="444.36" x2="444.36" y1="374" y2="411.5" stroke="#e0626b" stroke-width="1.1" opacity=".85"/>
<rect x="441.71" y="378.75" width="5.3" height="32.15" fill="#b9424b" stroke="#e0626b" stroke-width="0.9"/>
<line x1="452.79" x2="452.79" y1="389" y2="401" stroke="#3fa69b" stroke-width="1.1" opacity=".85"/>
<rect x="450.14" y="392.1" width="5.3" height="8.4" fill="#20827a" stroke="#3fa69b" stroke-width="0.9"/>
<line x1="461.22" x2="461.22" y1="386" y2="401" stroke="#e0626b" stroke-width="1.1" opacity=".85"/>
<rect x="458.57" y="392" width="5.3" height="7.7" fill="#b9424b" stroke="#e0626b" stroke-width="0.9"/>
<line x1="469.65" x2="469.65" y1="397" y2="412" stroke="#e0626b" stroke-width="1.1" opacity=".85"/>
<rect x="467" y="398.75" width="5.3" height="12.65" fill="#b9424b" stroke="#e0626b" stroke-width="0.9"/>
<line x1="478.08" x2="478.08" y1="405.4" y2="423.5" stroke="#e0626b" stroke-width="1.1" opacity=".85"/>
<rect x="475.43" y="412" width="5.3" height="10.6" fill="#b9424b" stroke="#e0626b" stroke-width="0.9"/>
<line x1="486.51" x2="486.51" y1="417.5" y2="438.75" stroke="#3fa69b" stroke-width="1.1" opacity=".85"/>
<rect x="483.86" y="418.5" width="5.3" height="4.6" fill="#20827a" stroke="#3fa69b" stroke-width="0.9"/>
<line x1="494.94" x2="494.94" y1="408.6" y2="423.75" stroke="#3fa69b" stroke-width="1.1" opacity=".85"/>
<rect x="492.29" y="416.25" width="5.3" height="2.95" fill="#20827a" stroke="#3fa69b" stroke-width="0.9"/>
<line x1="503.37" x2="503.37" y1="393" y2="421" stroke="#3fa69b" stroke-width="1.1" opacity=".85"/>
<rect x="500.72" y="397" width="5.3" height="19.7" fill="#20827a" stroke="#3fa69b" stroke-width="0.9"/>
<line x1="511.8" x2="511.8" y1="395.5" y2="404.5" stroke="#3fa69b" stroke-width="1.1" opacity=".85"/>
<rect x="509.15" y="395.9" width="5.3" height="1.2" fill="#20827a" stroke="#3fa69b" stroke-width="0.9"/>
<line x1="520.23" x2="520.23" y1="382.5" y2="398.5" stroke="#3fa69b" stroke-width="1.1" opacity=".85"/>
<rect x="517.58" y="387" width="5.3" height="10" fill="#20827a" stroke="#3fa69b" stroke-width="0.9"/>
<line x1="528.66" x2="528.66" y1="378.75" y2="391.9" stroke="#3fa69b" stroke-width="1.1" opacity=".85"/>
<rect x="526.01" y="382" width="5.3" height="6.1" fill="#20827a" stroke="#3fa69b" stroke-width="0.9"/>
<line x1="537.09" x2="537.09" y1="380" y2="386.5" stroke="#3fa69b" stroke-width="1.1" opacity=".85"/>
<rect x="534.44" y="381.25" width="5.3" height="2.65" fill="#20827a" stroke="#3fa69b" stroke-width="0.9"/>
<line x1="545.52" x2="545.52" y1="381" y2="399.4" stroke="#e0626b" stroke-width="1.1" opacity=".85"/>
<rect x="542.87" y="382" width="5.3" height="12.75" fill="#b9424b" stroke="#e0626b" stroke-width="0.9"/>
<line x1="553.95" x2="553.95" y1="378.75" y2="402.5" stroke="#3fa69b" stroke-width="1.1" opacity=".85"/>
<rect x="551.3" y="383.9" width="5.3" height="10.85" fill="#20827a" stroke="#3fa69b" stroke-width="0.9"/>
<line x1="562.38" x2="562.38" y1="355.6" y2="386" stroke="#3fa69b" stroke-width="1.1" opacity=".85"/>
<rect x="559.73" y="361.9" width="5.3" height="22.85" fill="#20827a" stroke="#3fa69b" stroke-width="0.9"/>
<line x1="570.81" x2="570.81" y1="356.25" y2="369.4" stroke="#e0626b" stroke-width="1.1" opacity=".85"/>
<rect x="568.16" y="361.9" width="5.3" height="2.5" fill="#b9424b" stroke="#e0626b" stroke-width="0.9"/>
<line x1="579.24" x2="579.24" y1="358.5" y2="365.5" stroke="#3fa69b" stroke-width="1.1" opacity=".85"/>
<rect x="576.59" y="360" width="5.3" height="4.75" fill="#20827a" stroke="#3fa69b" stroke-width="0.9"/>
<line x1="587.67" x2="587.67" y1="356" y2="373.75" stroke="#e0626b" stroke-width="1.1" opacity=".85"/>
<rect x="585.02" y="360" width="5.3" height="9.4" fill="#b9424b" stroke="#e0626b" stroke-width="0.9"/>
<line x1="596.1" x2="596.1" y1="357.25" y2="380" stroke="#3fa69b" stroke-width="1.1" opacity=".85"/>
<rect x="593.45" y="362.4" width="5.3" height="6.5" fill="#20827a" stroke="#3fa69b" stroke-width="0.9"/>
<line x1="604.53" x2="604.53" y1="361" y2="381.9" stroke="#e0626b" stroke-width="1.1" opacity=".85"/>
<rect x="601.88" y="361.9" width="5.3" height="17.7" fill="#b9424b" stroke="#e0626b" stroke-width="0.9"/>
<line x1="612.96" x2="612.96" y1="370" y2="380" stroke="#3fa69b" stroke-width="1.1" opacity=".85"/>
<rect x="610.31" y="372.4" width="5.3" height="6.2" fill="#20827a" stroke="#3fa69b" stroke-width="0.9"/>
<line x1="621.39" x2="621.39" y1="359.4" y2="368" stroke="#3fa69b" stroke-width="1.1" opacity=".85"/>
<rect x="618.74" y="361" width="5.3" height="6.6" fill="#20827a" stroke="#3fa69b" stroke-width="0.9"/>
<line x1="629.82" x2="629.82" y1="360" y2="368" stroke="#3fa69b" stroke-width="1.1" opacity=".85"/>
<rect x="627.17" y="361.25" width="5.3" height="1.25" fill="#20827a" stroke="#3fa69b" stroke-width="0.9"/>
<line x1="638.25" x2="638.25" y1="349" y2="362.5" stroke="#3fa69b" stroke-width="1.1" opacity=".85"/>
<rect x="635.6" y="350" width="5.3" height="11.9" fill="#20827a" stroke="#3fa69b" stroke-width="0.9"/>
<line x1="646.68" x2="646.68" y1="348.5" y2="360.8" stroke="#e0626b" stroke-width="1.1" opacity=".85"/>
<rect x="644.03" y="349.2" width="5.3" height="6.6" fill="#b9424b" stroke="#e0626b" stroke-width="0.9"/>
<line x1="655.11" x2="655.11" y1="351.1" y2="359.2" stroke="#3fa69b" stroke-width="1.1" opacity=".85"/>
<rect x="652.46" y="355.4" width="5.3" height="1.2" fill="#20827a" stroke="#3fa69b" stroke-width="0.9"/>
<line x1="663.54" x2="663.54" y1="341.4" y2="359" stroke="#3fa69b" stroke-width="1.1" opacity=".85"/>
<rect x="660.89" y="344.9" width="5.3" height="13.4" fill="#20827a" stroke="#3fa69b" stroke-width="0.9"/>
<line x1="671.97" x2="671.97" y1="340" y2="348.75" stroke="#3fa69b" stroke-width="1.1" opacity=".85"/>
<rect x="669.32" y="340.5" width="5.3" height="5" fill="#20827a" stroke="#3fa69b" stroke-width="0.9"/>
<line x1="680.4" x2="680.4" y1="312" y2="343.1" stroke="#3fa69b" stroke-width="1.1" opacity=".85"/>
<rect x="677.75" y="312" width="5.3" height="28.5" fill="#20827a" stroke="#3fa69b" stroke-width="0.9"/>
<path d="M0 476C1 475.25 3.92 472.75 6 471.5C8.08 470.25 9.33 469.52 12.5 468.5C15.67 467.48 18.75 466.23 25 465.4C31.25 464.57 42.5 464.07 50 463.5C57.5 462.93 61.67 462.08 70 462C78.33 461.92 90.42 462.75 100 463C109.58 463.25 117.92 463.48 127.5 463.5C137.08 463.52 150.42 462.77 157.5 463.1C164.58 463.43 165.83 464.52 170 465.5C174.17 466.48 178.33 468.29 182.5 469C186.67 469.71 188.75 470.04 195 469.75C201.25 469.46 211.17 467.73 220 467.25C228.83 466.77 239.67 466.69 248 466.9C256.33 467.11 263 468.07 270 468.5C277 468.93 284.58 469.29 290 469.5C295.42 469.71 297.5 469.75 302.5 469.75C307.5 469.75 314.17 469.67 320 469.5C325.83 469.33 332.08 469.43 337.5 468.75C342.92 468.07 347.54 466.44 352.5 465.4C357.46 464.36 363 462.87 367.25 462.5C371.5 462.13 374.46 462.93 378 463.2C381.54 463.47 384.67 463.95 388.5 464.1C392.33 464.25 397.08 464.7 401 464.1C404.92 463.5 408.25 461.85 412 460.5C415.75 459.15 418.25 458.32 423.5 456C428.75 453.68 436.75 449.93 443.5 446.6C450.25 443.27 457.75 438.56 464 436C470.25 433.44 474 433.29 481 431.25C488 429.21 497.67 426.25 506 423.75C514.33 421.25 524.5 418.54 531 416.25C537.5 413.96 540.83 412.08 545 410C549.17 407.92 552.08 406.25 556 403.75C559.92 401.25 565.17 396.88 568.5 395C571.83 393.12 573.42 393.12 576 392.5C578.58 391.88 580.83 391.87 584 391.25C587.17 390.63 591.38 389.29 595 388.8C598.62 388.31 602.42 388.63 605.75 388.3C609.08 387.97 611.88 387.45 615 386.8C618.12 386.15 620 385.53 624.5 384.4C629 383.27 636.08 381.98 642 380C647.92 378.02 653.75 375.33 660 372.5C666.25 369.67 676.25 364.58 679.5 363" fill="none" stroke="#3d57b8" stroke-opacity=".92" stroke-width="1.25"/>
<path d="M389.75 477.25L402.25 459.75L413.5 441L417.5 432L426 416L428.75 409L436.25 392.75L442.5 373.4L450 389L460 405.25L470 414L481.9 427.75L493.5 411.25L506 400L518.5 389.4L533.5 380L537 376.25L543.5 386.25L556 399.4L572.25 380L588.25 356.25L599.5 368.75L611.4 381.9L624.5 365L638.25 345.5L644 347.4L655.5 366L665 348L673.25 330L678.75 319" fill="none" stroke="#f5b51c" stroke-opacity=".82" stroke-width="3.2" stroke-linejoin="round" stroke-linecap="round"/>
<path d="M685.6 319.75L688 316.5L692.5 314L698 312.2L702.5 310.75L703.5 308.8L708 307.2L713 305L717.5 303" fill="none" stroke="#f23d77" stroke-width="3.4" stroke-linejoin="round" stroke-linecap="round"/>
<circle cx="687.8" cy="489.3" r="8.6" fill="#2a1218" stroke="#b02e3d" stroke-width="1.5"/><g><clipPath id="cu3"><circle cx="687.8" cy="489.3" r="6.4"/></clipPath><g clip-path="url(#cu3)"><rect x="681.4" y="482.9" width="12.8" height="12.8" fill="#f4f4f6"/><rect x="681.4" y="485.74" width="12.8" height="1.42" fill="#e0544f"/><rect x="681.4" y="488.59" width="12.8" height="1.42" fill="#e0544f"/><rect x="681.4" y="491.43" width="12.8" height="1.42" fill="#e0544f"/><rect x="681.4" y="494.28" width="12.8" height="1.42" fill="#e0544f"/><rect x="681.4" y="481.48" width="12.8" height="2.7" fill="#e0544f"/><rect x="681.4" y="482.9" width="7.36" height="7.04" fill="#4a86e0"/></g></g>
<circle cx="689.5" cy="510.5" r="8.6" fill="#2a1218" stroke="#b02e3d" stroke-width="1.5"/><circle cx="689.5" cy="510.5" r="6.4" fill="#f6f6f8"/><circle cx="689.5" cy="510.5" r="2.7" fill="#e8414c"/>
<circle cx="679" cy="510.5" r="8.6" fill="#2a1218" stroke="#b02e3d" stroke-width="1.5"/><g><clipPath id="cu4"><circle cx="679" cy="510.5" r="6.4"/></clipPath><g clip-path="url(#cu4)"><rect x="672.6" y="504.1" width="12.8" height="12.8" fill="#f4f4f6"/><rect x="672.6" y="506.94" width="12.8" height="1.42" fill="#e0544f"/><rect x="672.6" y="509.79" width="12.8" height="1.42" fill="#e0544f"/><rect x="672.6" y="512.63" width="12.8" height="1.42" fill="#e0544f"/><rect x="672.6" y="515.48" width="12.8" height="1.42" fill="#e0544f"/><rect x="672.6" y="502.68" width="12.8" height="2.7" fill="#e0544f"/><rect x="672.6" y="504.1" width="7.36" height="7.04" fill="#4a86e0"/></g></g>
<circle cx="712.8" cy="510.2" r="8.6" fill="#2a1218" stroke="#b02e3d" stroke-width="1.5"/><g><clipPath id="cu5"><circle cx="712.8" cy="510.2" r="6.4"/></clipPath><g clip-path="url(#cu5)"><rect x="706.4" y="503.8" width="12.8" height="12.8" fill="#f4f4f6"/><rect x="706.4" y="506.64" width="12.8" height="1.42" fill="#e0544f"/><rect x="706.4" y="509.49" width="12.8" height="1.42" fill="#e0544f"/><rect x="706.4" y="512.33" width="12.8" height="1.42" fill="#e0544f"/><rect x="706.4" y="515.18" width="12.8" height="1.42" fill="#e0544f"/><rect x="706.4" y="502.38" width="12.8" height="2.7" fill="#e0544f"/><rect x="706.4" y="503.8" width="7.36" height="7.04" fill="#4a86e0"/></g></g>
</g>
</svg>
<div class="abs" style="left:0;top:0;width:1024px;height:1.2px;background:#c9ccd3"></div>
<div class="axis" style="top:1px;height:285px"></div>
<div class="taxis" style="top:263px"></div>
<div class="abs" style="left:972.6px;top:263px;width:1px;height:23px;background:#30343f"></div>
<div class="al" style="top:39.4px">160.000</div>
<div class="al" style="top:85.1px">155.000</div>
<div class="al" style="top:121.9px">151.000</div>
<div class="al" style="top:161.2px">147.000</div>
<div class="al" style="top:191px">144.000</div>
<div class="al" style="top:221px">141.000</div>
<div class="al" style="top:247.1px">138.500</div>
<div class="jpy" style="top:4.3px">JPY<svg width="6" height="4" viewBox="0 0 6 4"><path d="M.8 .8L3 2.9L5.2 .8" fill="none" stroke="#d5d7de" stroke-width="1.3"/></svg></div>
<div class="box cy" style="top:49px;height:15px;line-height:15.4px">158.082</div>
<div class="box tealb" style="top:64px;height:24.2px;font-weight:700;line-height:11.5px;padding-top:1.5px;text-align:left;padding-left:6.3px">157.159<br><span style="font-weight:400">2d 1h</span></div>
<div class="abs tealb" style="left:932px;top:64px;width:41px;height:13.5px;font-size:9.6px;line-height:13.8px;text-align:center;font-weight:700;letter-spacing:-.8px;border-radius:2px 0 0 2px">USDJPY</div>
<div class="box cy" style="top:112.1px;height:13.8px;line-height:13.8px">151.944</div>
<div class="box cy" style="top:139px;height:13.2px">149.185</div>
<div class="tl" style="left:203.8px;top:267.4px">11<i>月</i></div>
<div class="tl b" style="left:278.5px;top:267.4px">2025</div>
<div class="tl" style="left:344px;top:267.4px">3<i>月</i></div>
<div class="tl" style="left:418px;top:267.4px">5<i>月</i></div>
<div class="tl" style="left:491.4px;top:267.4px">7<i>月</i></div>
<div class="tl" style="left:557.6px;top:267.4px">9<i>月</i></div>
<div class="tl" style="left:631.4px;top:267.4px">11<i>月</i></div>
<div class="tl b" style="left:705.8px;top:267.4px">2026</div>
<div class="tl" style="left:771px;top:267.4px">3<i>月</i></div>
<div class="tl" style="left:845px;top:267.4px">5<i>月</i></div>
<div class="tl" style="left:918.6px;top:267.4px">7<i>月</i></div>
<div class="abs" style="left:0;top:284.2px;width:1024px;height:2.1px;background:#11131b"></div>
<div class="abs" style="left:0;top:286.3px;width:1022px;height:2.15px;background:#dfe1e6;border-radius:0 1px 1px 0"></div>
<div class="abs" style="left:0;top:289px;width:1.3px;height:255px;background:#3a3d47"></div>
<div class="axis" style="top:289px;height:255px"></div>
<div class="taxis" style="top:521.6px"></div>
<div class="abs" style="left:972.6px;top:521.3px;width:1px;height:23px;background:#30343f"></div>
<div class="al" style="top:324.7px">156.000</div>
<div class="al" style="top:422.2px">150.000</div>
<div class="al" style="top:455.4px">148.000</div>
<div class="al" style="top:488.3px">146.000</div>
<div class="jpy" style="top:292.2px">JPY<svg width="6" height="4" viewBox="0 0 6 4"><path d="M.8 .8L3 2.9L5.2 .8" fill="none" stroke="#d5d7de" stroke-width="1.3"/></svg></div>
<div class="box tealb" style="top:317px;height:13.6px;line-height:15px;text-align:left;padding-left:6.8px;font-weight:700">02:12</div>
<div class="box wh" style="top:339px;height:28.5px;line-height:14.2px;border-radius:1px;padding-top:.9px">155.044<br>154.793</div>
<div class="box cy" style="top:390.4px;height:14px;line-height:14.2px">151.944</div>
<div class="box cy" style="top:435.2px;height:14.2px;line-height:14.2px">149.185</div>
<div class="tl" style="left:-8px;top:525.6px">8<i>月</i></div>
<div class="tl" style="left:169.4px;top:525.6px">9<i>月</i></div>
<div class="tl" style="left:354.5px;top:525.6px">10<i>月</i></div>
<div class="tl" style="left:548.3px;top:525.6px">11<i>月</i></div>
<div class="tl" style="left:716.6px;top:525.6px">12<i>月</i></div>
<div class="tl b" style="left:910.5px;top:525.6px">2026</div>
<svg class="abs" style="left:991px;top:525px" width="16" height="16" viewBox="0 0 16 16"><path d="M5.2 2.6h5.6l2.8 5.4-2.8 5.4H5.2L2.4 8z" fill="none" stroke="#d1d4dc" stroke-width="1.15" stroke-linejoin="round"/><circle cx="8" cy="8" r="1.7" fill="none" stroke="#d1d4dc" stroke-width="1.1"/></svg>
<div class="lg" style="top:7px"><svg class="fl" width="22" height="18" viewBox="0 0 22 18"><circle cx="14.2" cy="6.3" r="5.3" fill="#f4f0f2"/><circle cx="14.2" cy="6.3" r="2.3" fill="#e8a0a8"/><circle cx="8.2" cy="11.4" r="6.1" fill="#151924"/><clipPath id="lf7"><circle cx="8.2" cy="11.4" r="5.2"/></clipPath><g clip-path="url(#lf7)"><rect x="2" y="5" width="13" height="13" fill="#f4f4f6"/><rect x="2" y="8.3" width="13" height="1.5" fill="#e0544f"/><rect x="2" y="11.1" width="13" height="1.5" fill="#e0544f"/><rect x="2" y="13.9" width="13" height="1.6" fill="#e0544f"/><rect x="2" y="5.4" width="13" height="1.3" fill="#e0544f"/><rect x="2" y="5" width="6.2" height="6.2" fill="#3f6fd8"/></g></svg><span class="ttl">米ドル／円<b> · </b><em>1</em>週<b> · </b><em>FXCM</em></span><svg class="rf" width="11.2" height="10.2" viewBox="0 0 12 11"><path d="M0.3 0.3H11.2L7.6 5.5L11.2 10.6H0.3Z" fill="#f2564d"/></svg><svg class="gc" width="16" height="16" viewBox="0 0 16 16"><circle cx="8" cy="8" r="6.8" fill="#15302d"/><circle cx="8" cy="8" r="3.5" fill="#22ab94"/></svg><span class="oh"><i>始値</i>154.372 <i class="g">高値</i>157.180 <i class="g">安値</i>154.372 <i class="g">終値</i>157.159 <span class="ch">+2.639 (+1.71%)</span></span></div>
<div class="abs" style="left:7px;top:22.7px;width:138px;height:35px;background:rgba(21,25,36,.55)"></div><div class="btn sell" style="top:28.7px"><div class="p">157.15<sup>9</sup></div><div class="t">売り</div></div><div class="one" style="top:38px">1.0</div><div class="btn buy" style="top:28.7px"><div class="p">157.16<sup>9</sup></div><div class="t">買い</div></div>
<div class="sma" style="top:65px">SMA 20 close<b>149.678</b></div>
<div class="col" style="top:84.3px"><svg width="9" height="6" viewBox="0 0 9 6"><path d="M1.2 4.6L4.5 1.8L7.8 4.6" fill="none" stroke="#d7d9e0" stroke-width="1.5"/></svg></div>
<div class="abs" style="left:1.5px;top:290px;width:558px;height:14px;background:rgba(21,25,36,.86)"></div>
<div class="lg" style="top:295.3px"><svg class="fl" width="22" height="18" viewBox="0 0 22 18"><circle cx="14.2" cy="6.3" r="5.3" fill="#f4f0f2"/><circle cx="14.2" cy="6.3" r="2.3" fill="#e8a0a8"/><circle cx="8.2" cy="11.4" r="6.1" fill="#151924"/><clipPath id="lf295"><circle cx="8.2" cy="11.4" r="5.2"/></clipPath><g clip-path="url(#lf295)"><rect x="2" y="5" width="13" height="13" fill="#f4f4f6"/><rect x="2" y="8.3" width="13" height="1.5" fill="#e0544f"/><rect x="2" y="11.1" width="13" height="1.5" fill="#e0544f"/><rect x="2" y="13.9" width="13" height="1.6" fill="#e0544f"/><rect x="2" y="5.4" width="13" height="1.3" fill="#e0544f"/><rect x="2" y="5" width="6.2" height="6.2" fill="#3f6fd8"/></g></svg><span class="ttl">米ドル／円<b> · </b><em>1</em>日<b> · </b><em>FXCM</em></span><svg class="rf" width="11.2" height="10.2" viewBox="0 0 12 11"><path d="M0.3 0.3H11.2L7.6 5.5L11.2 10.6H0.3Z" fill="#f2564d"/></svg><svg class="gc" width="16" height="16" viewBox="0 0 16 16"><circle cx="8" cy="8" r="6.8" fill="#15302d"/><circle cx="8" cy="8" r="3.5" fill="#22ab94"/></svg><span class="oh"><i>始値</i>155.453 <i class="g">高値</i>157.180 <i class="g">安値</i>155.211 <i class="g">終値</i>157.159 <span class="ch">+1.706 (+1.10%)</span></span></div>
<div class="abs" style="left:7px;top:310.6px;width:138px;height:35px;background:rgba(21,25,36,.55)"></div><div class="btn sell" style="top:316.6px"><div class="p">157.15<sup>9</sup></div><div class="t">売り</div></div><div class="one" style="top:325.9px">1.0</div><div class="btn buy" style="top:316.6px"><div class="p">157.16<sup>9</sup></div><div class="t">買い</div></div>
<div class="sma" style="top:353.4px">SMA 20 close<b>153.978</b></div>
<div class="col" style="top:370.9px"><svg width="9" height="6" viewBox="0 0 9 6"><path d="M1.2 4.6L4.5 1.8L7.8 4.6" fill="none" stroke="#d7d9e0" stroke-width="1.5"/></svg></div>
<div class="note" style="left:638.6px;top:146.4px;font-size:14.3px;line-height:18px;letter-spacing:.72px">週足押し目買い</div>
<div class="note" style="left:702.6px;top:351.4px;font-size:14.4px;line-height:20px;letter-spacing:.85px">日足押し目買い</div>
<div class="note" style="left:672.4px;top:449.8px;font-size:14.4px;line-height:20px;letter-spacing:.85px">週足押し目買い</div>
<div class="abs" style="left:0;top:289px;width:1.4px;height:255px;background:#34373f"></div>
<div class="abs" style="left:0;top:543px;width:1024px;height:1px;background:#2e3139"></div>
<svg class="abs" style="left:10px;top:496.5px" width="26" height="14" viewBox="0 0 26 14"><path d="M0 0H10.3V13.4H5.2V5.1H0Z" fill="#eceef2"/><circle cx="14.3" cy="2.6" r="2.6" fill="#eceef2"/><path d="M19.6 0H25.6L20 13.4H14Z" fill="#eceef2"/></svg>
<div class="abs" style="left:1.7px;top:250.6px;width:179px;height:32.1px;background:#fdfdfe;border-radius:4.5px"></div><svg class="abs" style="left:0;top:248px" width="186" height="38" viewBox="0 0 186 38"><rect x="9" y="12.5" width="1.5" height="1.5" fill="#cfd1d6"/><rect x="13.6" y="12.5" width="1.5" height="1.5" fill="#cfd1d6"/><rect x="9" y="16.8" width="1.5" height="1.5" fill="#cfd1d6"/><rect x="13.6" y="16.8" width="1.5" height="1.5" fill="#cfd1d6"/><rect x="9" y="21.2" width="1.5" height="1.5" fill="#cfd1d6"/><rect x="13.6" y="21.2" width="1.5" height="1.5" fill="#cfd1d6"/><line x1="32" y1="24.5" x2="43.2" y2="12.8" stroke="#2e3038" stroke-width="1.1" fill="none"/><circle cx="30.6" cy="26" r="1.9" stroke="#2e3038" stroke-width="1.1" fill="none" fill="#fdfdfe"/><circle cx="44.6" cy="11.4" r="1.9" stroke="#2e3038" stroke-width="1.1" fill="none" fill="#fdfdfe"/><line x1="64.2" y1="22.4" x2="72.8" y2="13" stroke="#2e3038" stroke-width="1.1" fill="none"/><circle cx="62.8" cy="23.9" r="1.9" stroke="#2e3038" stroke-width="1.1" fill="none"/><circle cx="74.1" cy="11.6" r="1.9" stroke="#2e3038" stroke-width="1.1" fill="none"/><line x1="68" y1="28.4" x2="71.4" y2="24.6" stroke="#2e3038" stroke-width="1.1" fill="none"/><line x1="74.2" y1="21.7" x2="78.2" y2="17.3" stroke="#2e3038" stroke-width="1.1" fill="none"/><circle cx="72.8" cy="23.1" r="1.9" stroke="#2e3038" stroke-width="1.1" fill="none"/><path d="M94.5 13.8L103.4 10.6" stroke="#2e3038" stroke-width="1.1" fill="none"/><circle cx="92.8" cy="14.4" r="1.8" stroke="#2e3038" stroke-width="1.1" fill="none"/><circle cx="105.1" cy="10" r="1.8" stroke="#2e3038" stroke-width="1.1" fill="none"/><path d="M92.8 16.2V19.6" stroke="#2e3038" stroke-width="1.1" fill="none"/><circle cx="92.8" cy="21.2" r="1.8" stroke="#2e3038" stroke-width="1.1" fill="none"/><path d="M94.6 21.2H111" stroke="#2e3038" stroke-width="1.1" fill="none"/><path d="M93 24.6H111M93 27.6H111" stroke="#2e3038" stroke-width="1.1" fill="none"/><circle cx="126.5" cy="18.9" r="1.8" stroke="#2e3038" stroke-width="1.1" fill="none"/><path d="M128.3 18.9H141.8" stroke="#2e3038" stroke-width="1.1" fill="none"/><path d="M155 10.2H173.5M155 15.2H171.2M155 20.4H173.5M157.6 25.4H173.5" stroke="#2e3038" stroke-width="1.1" fill="none"/><circle cx="173" cy="15.2" r="1.8" stroke="#2e3038" stroke-width="1.1" fill="none" fill="#fdfdfe"/><circle cx="155.8" cy="25.4" r="1.8" stroke="#2e3038" stroke-width="1.1" fill="none" fill="#fdfdfe"/></svg>
</div></body></html>
